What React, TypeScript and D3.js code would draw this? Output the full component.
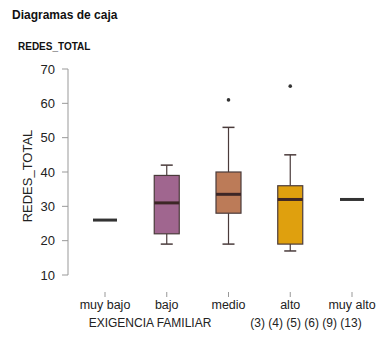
import React from "react";
import * as d3 from "d3";

const categories = ["muy bajo", "bajo", "medio", "alto", "muy alto"];
const counts = ["(3)", "(4)", "(5)", "(6)", "(9)", "(13)"];
const q1 = [26, 22, 28, 19, 32];
const medians = [26, 31, 33.5, 32, 32];
const q3 = [26, 39, 40, 36, 32];
const whiskerLow = [26, 19, 19, 17, 32];
const whiskerHigh = [26, 42, 53, 45, 32];
const outliers: [string, number][] = [["medio", 61], ["alto", 65]];
const fills = ["#9a9a9a", "#a0668f", "#bc7b58", "#dfa00e", "#9a9a9a"];
const yTicks = [10, 20, 30, 40, 50, 60, 70];

export default function App() {
  const W = 376, H = 343;
  const y = d3.scaleLinear().domain([10, 70]).range([275, 69]);
  const x = d3.scalePoint<string>().domain(categories).range([105, 352]);
  const bw = 25;
  const font = "Liberation Sans, Arial, sans-serif";
  const stroke = "#4a3b3b";
  return (
    <svg width={W} height={H} style={{ position: "absolute", left: 0, top: 0 }} fontFamily={font}>
      <rect width={W} height={H} fill="#fff" />
      <text x={12} y={19} fontSize={12} fontWeight="bold" fill="#111">Diagramas de caja</text>
      <text x={18} y={50} fontSize={10} fontWeight="bold" fill="#111">REDES_TOTAL</text>
      {/* y axis */}
      <line x1={68} x2={68} y1={y(70)} y2={y(10)} stroke="#999" strokeWidth={1} />
      {yTicks.map((t) => (
        <g key={t}>
          <line x1={62} x2={68} y1={y(t)} y2={y(t)} stroke="#999" />
          <text x={55} y={y(t)} dy="0.36em" textAnchor="end" fontSize={13} fill="#222">{t}</text>
        </g>
      ))}
      <text transform={`translate(32,${176}) rotate(-90)`} textAnchor="middle" fontSize={13} fill="#222">REDES_TOTAL</text>
      {/* x axis */}
      {categories.map((c) => (
        <g key={c}>
          <line x1={x(c)!} x2={x(c)!} y1={292} y2={297} stroke="#999" />
          <text x={x(c)!} y={309} textAnchor="middle" fontSize={12.5} fill="#222">{c}</text>
        </g>
      ))}
      <text x={150} y={327} textAnchor="middle" fontSize={12} fill="#222">EXIGENCIA FAMILIAR</text>
      <text x={306} y={327} textAnchor="middle" fontSize={12} fill="#222">{counts.join(" ")}</text>
      {/* boxes */}
      {categories.map((c, i) => {
        const cx = x(c)!;
        if (q1[i] === q3[i]) {
          return (
            <line key={c} x1={cx - 12} x2={cx + 12} y1={y(medians[i])} y2={y(medians[i])} stroke="#333" strokeWidth={3} />
          );
        }
        return (
          <g key={c}>
            <line x1={cx} x2={cx} y1={y(whiskerHigh[i])} y2={y(q3[i])} stroke={stroke} strokeWidth={1.2} />
            <line x1={cx} x2={cx} y1={y(q1[i])} y2={y(whiskerLow[i])} stroke={stroke} strokeWidth={1.2} />
            <line x1={cx - 6} x2={cx + 6} y1={y(whiskerHigh[i])} y2={y(whiskerHigh[i])} stroke={stroke} strokeWidth={1.5} />
            <line x1={cx - 6} x2={cx + 6} y1={y(whiskerLow[i])} y2={y(whiskerLow[i])} stroke={stroke} strokeWidth={1.5} />
            <rect x={cx - bw / 2} y={y(q3[i])} width={bw} height={y(q1[i]) - y(q3[i])} fill={fills[i]} stroke={stroke} strokeWidth={1.2} />
            <line x1={cx - bw / 2} x2={cx + bw / 2} y1={y(medians[i])} y2={y(medians[i])} stroke="#3d2626" strokeWidth={3} />
          </g>
        );
      })}
      {outliers.map(([c, v], i) => (
        <circle key={i} cx={x(c)!} cy={y(v)} r={1.8} fill="#333" />
      ))}
    </svg>
  );
}
